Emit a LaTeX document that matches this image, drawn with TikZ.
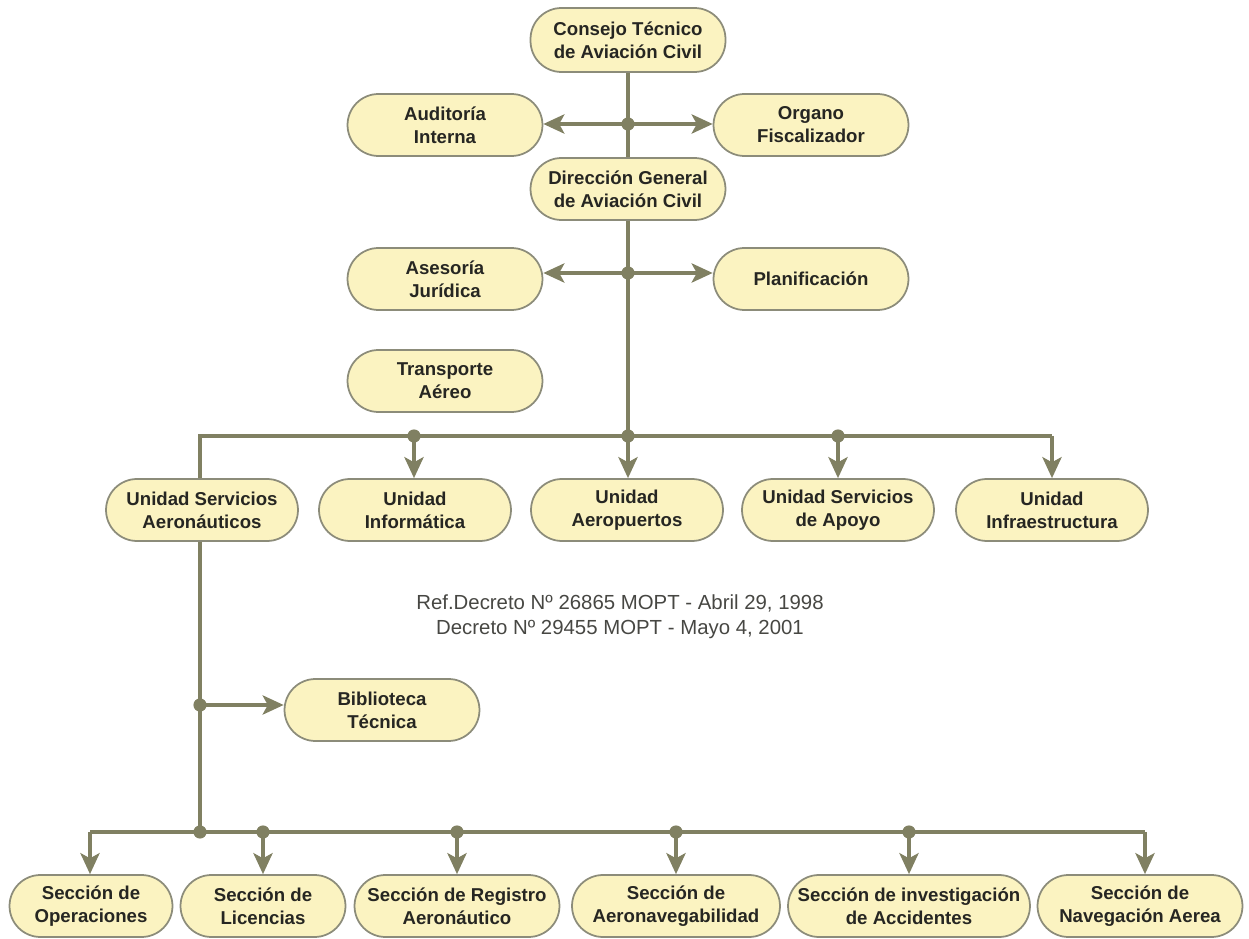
\documentclass[tikz,border=0pt]{standalone}
\usepackage{fontspec}
\setmainfont{Liberation Sans}
\usetikzlibrary{positioning, arrows.meta}
\definecolor{boxfill}{RGB}{251,243,193}
\definecolor{boxline}{RGB}{140,140,122}
\definecolor{wire}{RGB}{128,128,98}
\definecolor{ink}{RGB}{38,38,34}
\tikzset{
    unit/.style={
           rectangle,
           rounded corners=0.62cm,
           draw=boxline, line width=1pt,
           fill=boxfill,
           minimum height=1.24cm,
           minimum width=3.9cm,
           inner sep=2pt,
           align=center,
           text=ink,
           font=\fontsize{10.6}{13}\selectfont\bfseries,
           },
    link/.style={draw=wire, line width=1.8pt},
    joint/.style={circle, fill=wire, inner sep=0pt, minimum size=7.5pt},
}

\begin{document}
\begin{tikzpicture}[x=0.02cm, y=-0.02cm, >={Stealth[length=12pt,width=11pt,inset=3pt]}]
  \useasboundingbox (0,0) rectangle (1249,939);

  % top of the chart
  \node[unit, minimum height=1.28cm] (Consejo)   at (628,40)  {Consejo Técnico\\de Aviación Civil};
  \node[unit]                        (Auditoria) at (445,125) {Auditoría\\Interna};
  \node[unit]                        (Organo)    at (811,125) {Organo\\Fiscalizador};
  \node[unit]                        (Direccion) at (628,189) {Dirección General\\de Aviación Civil};
  \node[unit]                        (Asesoria)  at (445,279) {Asesoría\\Jurídica};
  \node[unit]                        (Planif)    at (811,279) {Planificación};
  \node[unit]                        (Transp)    at (445,381) {Transporte\\Aéreo};

  % units
  \node[unit, minimum width=3.84cm] (USA)    at (202,510)  {Unidad Servicios\\Aeronáuticos};
  \node[unit, minimum width=3.84cm] (UInfo)  at (415,510)  {Unidad\\Informática};
  \node[unit, minimum width=3.84cm] (UAero)  at (627,510)  {Unidad\\Aeropuertos};
  \node[unit, minimum width=3.84cm] (UApoyo) at (838,510)  {Unidad Servicios\\de Apoyo};
  \node[unit, minimum width=3.84cm] (UInfra) at (1052,510) {Unidad\\Infraestructura};

  \node[align=center, text=ink!85, font=\fontsize{11.6}{14}\selectfont] (Ref) at (620,617)
       {Ref.Decreto Nº 26865 MOPT - Abril 29, 1998\\Decreto Nº 29455 MOPT - Mayo 4, 2001};

  \node[unit] (Biblio) at (382,710) {Biblioteca\\Técnica};

  % sections
  \node[unit, minimum width=3.26cm] (SOper)  at (91,906)   {Sección de\\Operaciones};
  \node[unit, minimum width=3.3cm]  (SLic)   at (263,906)  {Sección de\\Licencias};
  \node[unit, minimum width=4.1cm]  (SReg)   at (457,906)  {Sección de Registro\\Aeronáutico};
  \node[unit, minimum width=4.16cm] (SAeron) at (676,906)  {Sección de\\Aeronavegabilidad};
  \node[unit, minimum width=4.84cm] (SInv)   at (909,906)  {Sección de investigación\\de Accidentes};
  \node[unit, minimum width=4.1cm]  (SNav)   at (1140,906) {Sección de\\Navegación Aerea};

  % junction points
  \coordinate (j1) at (628,124);
  \coordinate (j2) at (628,273);
  \coordinate (u0) at (200,436);
  \coordinate (u1) at (414,436);
  \coordinate (u2) at (628,436);
  \coordinate (u3) at (838,436);
  \coordinate (u4) at (1052,436);
  \coordinate (b0) at (200,705);
  \coordinate (s0) at (90,832);
  \coordinate (sx) at (200,832);
  \coordinate (s1) at (263,832);
  \coordinate (s2) at (457,832);
  \coordinate (s3) at (676,832);
  \coordinate (s4) at (909,832);
  \coordinate (s5) at (1145,832);

  % Consejo -> Direccion, with its advisors
  \draw[link] (Consejo) -- (Direccion);
  \draw[link, ->] (j1) -- (j1 -| Auditoria.east);
  \draw[link, ->] (j1) -- (j1 -| Organo.west);

  % Direccion -> units
  \draw[link] (Direccion) -- (u2);
  \draw[link, ->] (j2) -- (j2 -| Asesoria.east);
  \draw[link, ->] (j2) -- (j2 -| Planif.west);
  \draw[link] (USA.north -| u0) -- (u0) -- (u4);
  \draw[link, ->] (u4) -- (u4 |- UInfra.north);
  \draw[link, ->] (u1) -- (u1 |- UInfo.north);
  \draw[link, ->] (u2) -- (u2 |- UAero.north);
  \draw[link, ->] (u3) -- (u3 |- UApoyo.north);

  % Unidad Servicios Aeronauticos -> sections
  \draw[link] (USA.south -| sx) -- (sx);
  \draw[link, ->] (b0) -- (b0 -| Biblio.west);
  \draw[link] (s0) -- (s5);
  \draw[link, ->] (s0) -- (s0 |- SOper.north);
  \draw[link, ->] (s1) -- (s1 |- SLic.north);
  \draw[link, ->] (s2) -- (s2 |- SReg.north);
  \draw[link, ->] (s3) -- (s3 |- SAeron.north);
  \draw[link, ->] (s4) -- (s4 |- SInv.north);
  \draw[link, ->] (s5) -- (s5 |- SNav.north);

  \foreach \p in {j1, j2, u1, u2, u3, b0, sx, s1, s2, s3, s4}
    \node[joint] at (\p) {};

\end{tikzpicture}
\end{document}
